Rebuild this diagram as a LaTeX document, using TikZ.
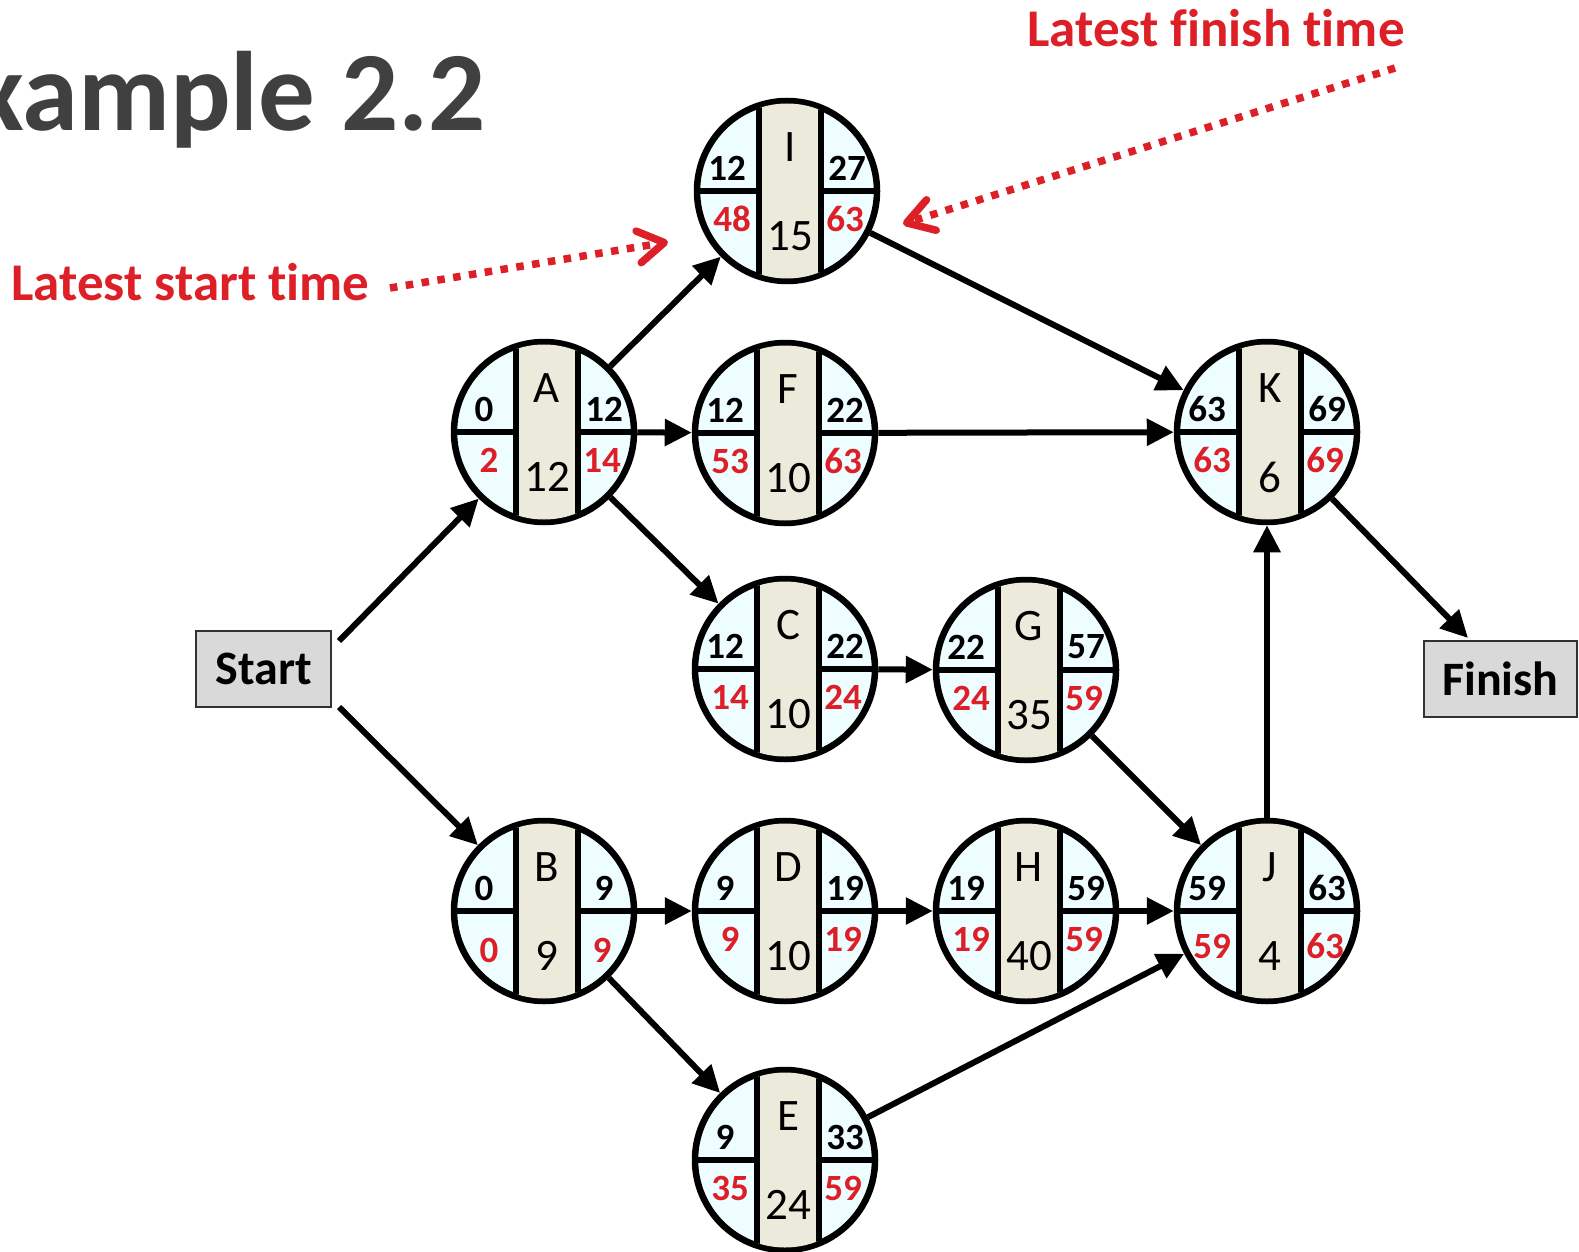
\documentclass[tikz,border=0pt]{standalone}
\usepackage{fontspec}
\setmainfont{Carlito}[Ligatures=NoCommon]
\usetikzlibrary{arrows.meta}
\definecolor{cyanfill}{RGB}{238,253,255}
\definecolor{stripfill}{RGB}{236,235,219}
\definecolor{redc}{RGB}{221,32,39}
\definecolor{titlegray}{RGB}{64,64,64}
\definecolor{boxfill}{RGB}{217,217,217}
\definecolor{boxdraw}{RGB}{50,50,50}
\tikzset{
 pcirc/.style={circle, draw=black, fill=cyanfill, line width=6.5pt, minimum size=180pt, inner sep=0pt, outer sep=3.25pt},
 divline/.style={line width=6pt, draw=black},
 numtop/.style={font=\fontsize{37}{37}\selectfont\bfseries, inner sep=0pt, text=black},
 numbot/.style={numtop, text=redc},
 lettxt/.style={font=\fontsize{45}{45}\selectfont, inner sep=0pt},
 termbox/.style={draw=boxdraw, fill=boxfill, line width=2.2pt, font=\fontsize{48}{48}\selectfont\bfseries, inner sep=0pt},
 edgearrow/.style={line width=6pt, -{Triangle[length=27pt,width=26pt]}},
 hint/.style={draw=redc, line width=7.5pt, dash pattern=on 7.5pt off 8.5pt, -{Straight Barb[length=26pt,width=32pt,round]}},
 hinttxt/.style={text=redc, font=\fontsize{53}{53}\selectfont\bfseries, inner sep=0pt},
}
\def\bdy{28}
\newcommand\pertnode[9]{%
 \node[pcirc] (#1) at (#2,#3) {};
 \begin{scope}
  \clip (#2,#3) circle[radius=87.5pt];
  \fill[stripfill] (#2-28,#3-100) rectangle (#2+34,#3+100);
  \draw[divline] (#2-28,#3-100) -- (#2-28,#3+100);
  \draw[divline] (#2+34,#3-100) -- (#2+34,#3+100);
  \draw[divline] (#2-100,#3) -- (#2-28,#3);
  \draw[divline] (#2+34,#3) -- (#2+100,#3);
 \end{scope}
 \node[numtop] (#1es) at (#2-60,#3-23) {#6};
 \node[numtop] (#1ef) at (#2+60,#3-23) {#7};
 \node[numbot] (#1ls) at (#2-55,#3+\bdy) {#8};
 \node[numbot] (#1lf) at (#2+58,#3+\bdy) {#9};
 \node[lettxt] (#1name) at (#2+3,#3-44) {#4};
 \node[lettxt] (#1dur) at (#2+3,#3+45) {#5};
}
\begin{document}
\begin{tikzpicture}[x=1pt,y=-1pt]
\useasboundingbox (0,0) rectangle (1579,1252);
\clip (0,0) rectangle (1579,1252);
\node[font=\fontsize{113}{113}\selectfont\bfseries, text=titlegray, anchor=base east, inner sep=0pt] (title) at (486,131) {Example 2.2};

\pertnode{I}{787}{191}{I}{15}{12}{27}{48}{63}
\pertnode{A}{544}{432}{A}{12}{0}{12}{2}{14}
\pertnode{F}{785}{433}{F}{10}{12}{22}{53}{63}
\pertnode{K}{1267}{432}{K}{6}{63}{69}{63}{69}
\pertnode{C}{785}{669}{C}{10}{12}{22}{14}{24}
\pertnode{G}{1026}{670}{G}{35}{22}{57}{24}{59}
\def\bdy{39}
\pertnode{B}{544}{911}{B}{9}{0}{9}{0}{9}
\def\bdy{28}
\pertnode{D}{785}{911}{D}{10}{9}{19}{9}{19}
\pertnode{H}{1026}{911}{H}{40}{19}{59}{19}{59}
\def\bdy{35}
\pertnode{J}{1267}{911}{J}{4}{59}{63}{59}{63}
\def\bdy{28}
\pertnode{E}{785}{1160}{E}{24}{9}{33}{35}{59}

\node[termbox, minimum width=135pt, minimum height=76pt] (start) at (263.5,669) {Start};
\node[termbox, minimum width=153pt, minimum height=76pt] (finish) at (1500.5,679) {Finish};

\coordinate (s1) at (339,641);
\coordinate (s2) at (339,707);
\coordinate (f1) at (1468,638);
\draw[edgearrow] (s1) -- (A);
\draw[edgearrow] (s2) -- (B);
\draw[edgearrow] (A) -- (I);
\draw[edgearrow] (A) -- (F);
\draw[edgearrow] (A) -- (C);
\draw[edgearrow] (I) -- (K);
\draw[edgearrow] (F) -- (K);
\draw[edgearrow] (C) -- (G);
\draw[edgearrow] (G) -- (J);
\draw[edgearrow] (B) -- (D);
\draw[edgearrow] (B) -- (E);
\draw[edgearrow] (D) -- (H);
\draw[edgearrow] (H) -- (J);
\draw[edgearrow] (E) -- (J);
\draw[edgearrow] (J) -- (K);
\draw[edgearrow] (K) -- (f1);

\node[hinttxt, anchor=base west] (lst) at (11,300) {Latest start time};
\node[hinttxt, anchor=base west] (lft) at (1027,47) {Latest finish time};
\coordinate (lsa) at (390,288);
\coordinate (lsb) at (668,242);
\coordinate (lfa) at (1395,68);
\coordinate (lfb) at (903,224);
\draw[hint] (lsa) -- (lsb);
\draw[hint] (lfa) -- (lfb);
\end{tikzpicture}
\end{document}
